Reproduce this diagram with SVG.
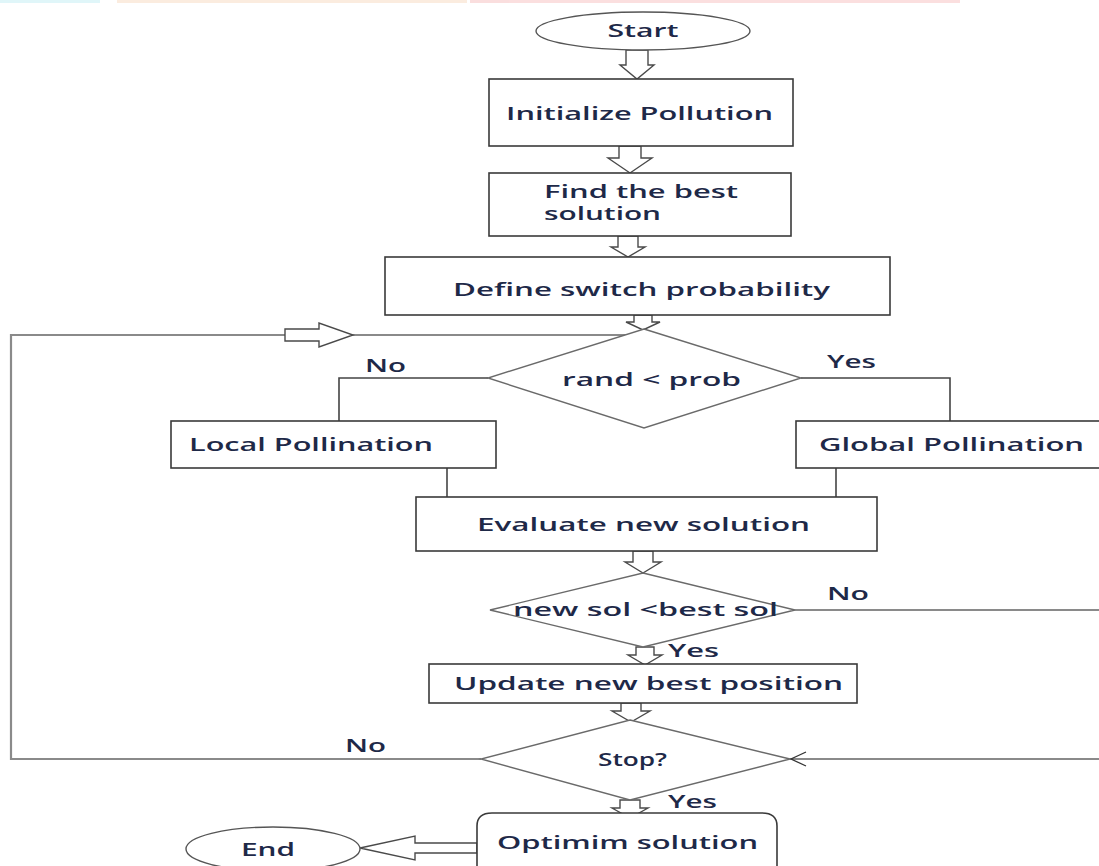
<svg xmlns="http://www.w3.org/2000/svg" width="1099" height="866" viewBox="0 0 1099 866">
<style>
.t{font-family:"Open Sans","Liberation Sans",sans-serif;font-size:18px;font-weight:600;fill:#1e2948}
.box{fill:#fff;stroke:#3a3a3a;stroke-width:1.6}
.dia{fill:#fff;stroke:#6a6a6a;stroke-width:1.4}
.ell{fill:#fff;stroke:#555;stroke-width:1.4}
.ln{fill:none;stroke:#444;stroke-width:1.6}
.lg{fill:none;stroke:#8a8a8a;stroke-width:2.2}
.ha{fill:#fff;stroke:#4a4a4a;stroke-width:1.4;stroke-linejoin:miter}
</style>
<rect width="1099" height="866" fill="#fff"/>
<g id="banner" opacity="0.35">
<rect x="0" y="0" width="100" height="3" fill="#a9e6f0"/>
<rect x="117" y="0" width="350" height="3" fill="#f6c9a6"/>
<rect x="470" y="0" width="490" height="3" fill="#f3a3a3"/>
</g>
<g id="connectors">
<polyline class="lg" points="630,335 11,335 11,759 481,759"/>
<polyline class="ln" points="488,378 339,378 339,421"/>
<polyline class="ln" points="801,378 950,378 950,421"/>
<line class="ln" x1="447" y1="468" x2="447" y2="497"/>
<line class="ln" x1="836" y1="468" x2="836" y2="497"/>
<line class="lg" x1="795" y1="610" x2="1099" y2="610"/>
<line class="lg" x1="1099" y1="759" x2="790" y2="759"/>
<polyline fill="none" stroke="#333" stroke-width="1.3" points="806,752 791,759 806,766"/>
<polygon class="ha" points="626,50 648,50 648,65 654,65 637,79 620,65 626,65"/>
<polygon class="ha" points="619,146 641,146 641,158 652,158 630,173 608,158 619,158"/>
<polygon class="ha" points="618,236 638,236 638,247 645,247 628,257 611,247 618,247"/>
<polygon class="ha" points="634,315 652,315 652,322 660,322 643,330 626,322 634,322"/>
<polygon class="ha" points="633,551 653,551 653,562 661,562 643,573 625,562 633,562"/>
<polygon class="ha" points="636,647 654,647 654,655 662,655 645,665 628,655 636,655"/>
<polygon class="ha" points="621,703 641,703 641,711 650,711 631,722 612,711 621,711"/>
<polygon class="ha" points="620,800 640,800 640,808 648,808 630,818 612,808 620,808"/>
<polygon class="ha" points="285,329 319,329 319,323 353,335 319,347 319,341 285,341"/>
<polygon class="ha" points="477,843 415,843 415,836 360,848 415,860 415,853 477,853"/>
<text class="t" x="365" y="372" textLength="41" lengthAdjust="spacingAndGlyphs">No</text>
<text class="t" x="827" y="368" textLength="49" lengthAdjust="spacingAndGlyphs">Yes</text>
<text class="t" x="827" y="600" textLength="42" lengthAdjust="spacingAndGlyphs">No</text>
<text class="t" x="668" y="657" textLength="51" lengthAdjust="spacingAndGlyphs">Yes</text>
<text class="t" x="345" y="752" textLength="41" lengthAdjust="spacingAndGlyphs">No</text>
<text class="t" x="668" y="808" textLength="49" lengthAdjust="spacingAndGlyphs">Yes</text>
</g>
<g id="start">
<ellipse class="ell" cx="643" cy="31" rx="107" ry="19"/>
<text class="t" x="643" y="37" text-anchor="middle" textLength="71" lengthAdjust="spacingAndGlyphs">Start</text>
</g>
<g id="init">
<rect class="box" x="489" y="79" width="304" height="67"/>
<text class="t" x="506" y="120" textLength="267" lengthAdjust="spacingAndGlyphs">Initialize Pollution</text>
</g>
<g id="find">
<rect class="box" x="489" y="173" width="302" height="63"/>
<text class="t" x="544" y="198" textLength="194" lengthAdjust="spacingAndGlyphs">Find the best</text>
<text class="t" x="544" y="220" textLength="117" lengthAdjust="spacingAndGlyphs">solution</text>
</g>
<g id="define">
<rect class="box" x="385" y="257" width="505" height="58"/>
<text class="t" x="453" y="296" textLength="377" lengthAdjust="spacingAndGlyphs">Define switch probability</text>
</g>
<g id="rand">
<polygon class="dia" points="644,329 801,378 644,428 488,378"/>
<text class="t" x="562" y="386" textLength="179" lengthAdjust="spacingAndGlyphs">rand &lt; prob</text>
</g>
<g id="local">
<rect class="box" x="171" y="421" width="325" height="47"/>
<text class="t" x="189" y="451" textLength="244" lengthAdjust="spacingAndGlyphs">Local Pollination</text>
</g>
<g id="global">
<rect class="box" x="796" y="421" width="310" height="47"/>
<text class="t" x="819" y="451" textLength="265" lengthAdjust="spacingAndGlyphs">Global Pollination</text>
</g>
<g id="evaluate">
<rect class="box" x="416" y="497" width="461" height="54"/>
<text class="t" x="477" y="531" textLength="333" lengthAdjust="spacingAndGlyphs">Evaluate new solution</text>
</g>
<g id="compare">
<polygon class="dia" points="643,573 795,610 643,647 490,610"/>
<text class="t" x="513" y="616" textLength="265" lengthAdjust="spacingAndGlyphs">new sol &lt;best sol</text>
</g>
<g id="update">
<rect class="box" x="429" y="664" width="428" height="39"/>
<text class="t" x="454" y="690" textLength="389" lengthAdjust="spacingAndGlyphs">Update new best position</text>
</g>
<g id="stop">
<polygon class="dia" points="630,720 790,759 630,800 481,759"/>
<text class="t" x="598" y="766" textLength="69" lengthAdjust="spacingAndGlyphs">Stop?</text>
</g>
<g id="optimum">
<path class="box" d="M477,875 L477,826 Q477,813 492,813 L762,813 Q777,813 777,826 L777,875"/>
<text class="t" x="497" y="849" textLength="261" lengthAdjust="spacingAndGlyphs">Optimim solution</text>
</g>
<g id="end">
<ellipse class="ell" cx="273" cy="849" rx="87" ry="22"/>
<text class="t" x="241" y="856" textLength="54" lengthAdjust="spacingAndGlyphs">End</text>
</g>
</svg>
